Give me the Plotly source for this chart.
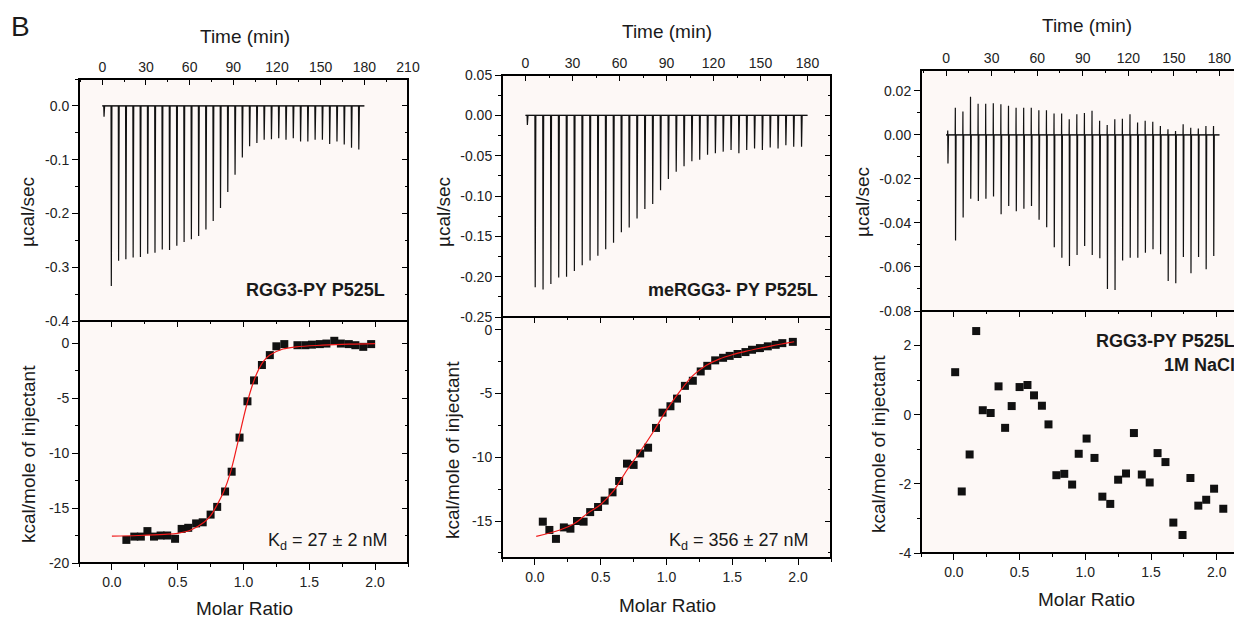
import plotly.graph_objects as go

W, H = 1242, 620
OFF = 8   # the page body margin shifts the figure by 8px, so layout pixels are measured from there
FONT = 'Arial, Liberation Sans, sans-serif'

#----------data----------------------------------------------------------------------------------

# injection times (min), same protocol for the three runs
inj_time = [1, 6, 11, 16, 21, 26, 31, 36, 41, 46, 51, 56, 61, 66, 71, 76, 81, 86, 91, 96,
            101, 106, 111, 116, 121, 126, 131, 136, 141, 146, 151, 156, 161, 166, 171, 176]
run_span = [0, 180]

# raw thermogram peaks (ucal/sec)
raw1_peak = [-0.02, -0.335, -0.288, -0.285, -0.282, -0.281, -0.275, -0.273, -0.267, -0.268, -0.260,
             -0.253, -0.248, -0.242, -0.230, -0.214, -0.190, -0.160, -0.128, -0.096, -0.075,
             -0.069, -0.063, -0.062, -0.060, -0.063, -0.060, -0.066, -0.066, -0.063, -0.063,
             -0.071, -0.066, -0.072, -0.078, -0.081]
raw2_peak = [-0.012, -0.213, -0.216, -0.209, -0.201, -0.200, -0.193, -0.186, -0.180, -0.174, -0.166,
             -0.158, -0.145, -0.139, -0.128, -0.116, -0.110, -0.093, -0.079, -0.070, -0.063,
             -0.057, -0.055, -0.049, -0.047, -0.045, -0.043, -0.047, -0.043, -0.041, -0.043,
             -0.040, -0.041, -0.037, -0.039, -0.039]
raw3_peak = [-0.013, -0.048, -0.0375, -0.029, -0.030, -0.029, -0.028, -0.036, -0.0323, -0.0347, -0.0335,
             -0.0323, -0.0385, -0.042, -0.051, -0.0558, -0.0595, -0.0545, -0.0505, -0.0545, -0.056,
             -0.070, -0.0705, -0.057, -0.0558, -0.0558, -0.0535, -0.052, -0.0542, -0.0664, -0.0674,
             -0.0555, -0.0628, -0.0555, -0.061, -0.055]
raw3_up = [0.002, 0.0124, 0.0106, 0.0174, 0.0142, 0.0142, 0.0144, 0.0139, 0.0132, 0.0124, 0.0124,
           0.0124, 0.0112, 0.0112, 0.0097, 0.0097, 0.0071, 0.0094, 0.010, 0.011, 0.0064,
           0.0045, 0.0071, 0.0074, 0.0094, 0.0056, 0.0064, 0.006, 0.0041, 0.0026, 0.0018,
           0.0048, 0.0033, 0.0029, 0.0041, 0.0041]

# integrated heats (kcal/mole of injectant) vs molar ratio
mr1 = [0.11, 0.17, 0.22, 0.27, 0.32, 0.37, 0.42, 0.48, 0.53, 0.58, 0.64, 0.69, 0.75, 0.80, 0.86, 0.91,
       0.97, 1.03, 1.08, 1.14, 1.20, 1.25, 1.31, 1.41, 1.47, 1.52, 1.58, 1.63, 1.69, 1.74, 1.80, 1.85,
       1.91, 1.97]
heat1 = [-17.9, -17.6, -17.6, -17.1, -17.6, -17.5, -17.5, -17.8, -16.9, -16.8, -16.4, -16.3, -15.6, -14.9,
         -13.5, -11.7, -8.6, -5.3, -3.4, -2.0, -1.1, -0.3, -0.1, -0.2, -0.2, -0.15, -0.1, -0.05, 0.2,
         -0.05, -0.1, -0.2, -0.35, -0.1]
fit1_mr = [0.0, 0.2, 0.4, 0.5, 0.6, 0.7, 0.75, 0.8, 0.85, 0.9, 0.95, 1.0, 1.05, 1.1, 1.15, 1.2, 1.3, 1.4,
           1.6, 1.8, 2.0]
fit1_heat = [-17.55, -17.5, -17.4, -17.3, -17.0, -16.3, -15.7, -14.7, -13.5, -11.8, -9.4, -6.8, -4.5,
             -2.8, -1.7, -1.1, -0.55, -0.35, -0.2, -0.1, -0.05]

mr2 = [0.06, 0.11, 0.16, 0.22, 0.27, 0.32, 0.37, 0.42, 0.48, 0.53, 0.59, 0.64, 0.70, 0.75, 0.80, 0.86,
       0.92, 0.97, 1.03, 1.08, 1.14, 1.20, 1.26, 1.31, 1.37, 1.43, 1.48, 1.54, 1.60, 1.65, 1.71, 1.77,
       1.83, 1.88, 1.96]
heat2 = [-15.05, -15.7, -16.4, -15.5, -15.6, -15.0, -15.05, -14.3, -13.9, -13.4, -12.75, -11.86, -10.5,
         -10.6, -9.7, -9.25, -7.7, -6.5, -6.0, -5.4, -4.4, -4.0, -3.27, -2.83, -2.4, -2.2, -2.05, -1.9,
         -1.75, -1.57, -1.44, -1.3, -1.18, -1.05, -0.95]
fit2_mr = [0.01, 0.19, 0.3, 0.4, 0.5, 0.6, 0.7, 0.8, 0.9, 1.0, 1.1, 1.2, 1.3, 1.4, 1.5, 1.6, 1.7, 1.8,
           1.9, 1.97]
fit2_heat = [-16.2, -15.7, -15.2, -14.4, -13.7, -12.6, -11.0, -9.55, -8.0, -6.3, -4.85, -3.6, -2.8,
             -2.3, -1.96, -1.7, -1.47, -1.26, -1.07, -0.94]

mr3 = [0.01, 0.06, 0.12, 0.17, 0.22, 0.28, 0.34, 0.39, 0.44, 0.50, 0.56, 0.61, 0.67, 0.72, 0.78, 0.84,
       0.90, 0.95, 1.01, 1.07, 1.13, 1.19, 1.25, 1.31, 1.37, 1.43, 1.49, 1.55, 1.61, 1.67, 1.74, 1.80,
       1.86, 1.92, 1.98, 2.05]
heat3 = [1.23, -2.22, -1.15, 2.42, 0.13, 0.05, 0.82, -0.38, 0.25, 0.80, 0.86, 0.56, 0.26, -0.28, -1.75,
         -1.71, -2.02, -1.13, -0.69, -1.25, -2.37, -2.58, -1.88, -1.70, -0.53, -1.73, -1.96, -1.11,
         -1.37, -3.12, -3.48, -1.83, -2.63, -2.46, -2.14, -2.72]

# tick labels
time_ticks_210 = [0, 30, 60, 90, 120, 150, 180, 210]
time_ticks_180 = [0, 30, 60, 90, 120, 150, 180]
mr_ticks = [0.0, 0.5, 1.0, 1.5, 2.0]
mr_text = ['0.0', '0.5', '1.0', '1.5', '2.0']
raw1_ticks = [0.0, -0.1, -0.2, -0.3, -0.4]
raw1_text = ['0.0', '-0.1', '-0.2', '-0.3', '-0.4']
raw2_ticks = [0.05, 0.0, -0.05, -0.10, -0.15, -0.20, -0.25]
raw2_text = ['0.05', '0.00', '-0.05', '-0.10', '-0.15', '-0.20', '-0.25']
raw3_ticks = [0.02, 0.0, -0.02, -0.04, -0.06, -0.08]
raw3_text = ['0.02', '0.00', '-0.02', '-0.04', '-0.06', '-0.08']
heat1_ticks = [0, -5, -10, -15, -20]
heat2_ticks = [0, -5, -10, -15]
heat3_ticks = [2, 0, -2, -4]

#----------helpers---------------------------------------------------------------------------------

def thermogram(times, down, up=None):
    xs, ys = [run_span[0]], [0]
    for i, t in enumerate(times):
        if up is None:
            xs += [t, t + 0.2, t + 0.6]
            ys += [0, down[i], 0]
        else:
            xs += [t, t + 0.1, t + 0.25, t + 0.6]
            ys += [0, up[i], down[i], 0]
    xs.append(run_span[1])
    ys.append(0)
    return xs, ys


def axis(rng, anchor, side, tickvals, ticktext, ticks, minor_dtick, dom=None, overlay=None):
    ax = dict(range=rng, anchor=anchor, side=side, tickmode='array', tickvals=tickvals, ticktext=ticktext,
              ticks=ticks, ticklen=6, tickwidth=1.3, tickcolor='black', showgrid=False, zeroline=False,
              automargin=False, tickfont=dict(family=FONT, size=14, color='#222'),
              minor=dict(ticks=ticks, ticklen=3, tickwidth=1.3, tickcolor='black', tickmode='linear',
                         tick0=0, dtick=minor_dtick, showgrid=False))
    if overlay:
        ax['overlaying'] = overlay
        ax['showticklabels'] = False
        ax['showline'] = False
    else:
        ax['domain'] = dom
        ax['showline'] = True
        ax['linecolor'] = 'black'
        ax['linewidth'] = 1
    return ax


def fx(x):
    return (x - OFF) / W


def fy(y):
    return 1 - (y - OFF) / H

#----------panel setup (pixel frames and axis ranges)----------------------------------------------

panels = [
    dict(xpx=(79, 408), top=(79, 321), bot=(321, 563), t_rng=[-16, 210], mr_rng=[-0.25, 2.25],
         raw_rng=[-0.4, 0.05], heat_rng=[-20, 2], t_ticks=time_ticks_210,
         raw_ticks=raw1_ticks, raw_text=raw1_text, raw_minor=0.05,
         heat_ticks=heat1_ticks, heat_minor=2.5, thermo=thermogram(inj_time, raw1_peak),
         mr=mr1, heat=heat1, fit=(fit1_mr, fit1_heat)),
    dict(xpx=(502, 831), top=(75, 317), bot=(317, 558), t_rng=[-15, 195], mr_rng=[-0.25, 2.25],
         raw_rng=[-0.25, 0.05], heat_rng=[-17.9, 1.0], t_ticks=time_ticks_180,
         raw_ticks=raw2_ticks, raw_text=raw2_text, raw_minor=0.025,
         heat_ticks=heat2_ticks, heat_minor=2.5, thermo=thermogram(inj_time, raw2_peak),
         mr=mr2, heat=heat2, fit=(fit2_mr, fit2_heat)),
    dict(xpx=(921, 1243), top=(70, 311), bot=(311, 553), t_rng=[-16.5, 195.5], mr_rng=[-0.25, 2.2],
         raw_rng=[-0.08, 0.0295], heat_rng=[-4, 3], t_ticks=time_ticks_180,
         raw_ticks=raw3_ticks, raw_text=raw3_text, raw_minor=0.01,
         heat_ticks=heat3_ticks, heat_minor=1, thermo=thermogram(inj_time, raw3_peak, raw3_up),
         mr=mr3, heat=heat3, fit=None),
]

fig = go.Figure()
layout_axes = {}
frames = []

for p, pan in enumerate(panels):
    xt, xb, xbm = 3 * p + 1, 3 * p + 2, 3 * p + 3
    yt, ytm, yb, ybm = 4 * p + 1, 4 * p + 2, 4 * p + 3, 4 * p + 4
    nm = lambda k, i: k if i == 1 else k + str(i)
    x0, x1 = fx(pan['xpx'][0]), fx(pan['xpx'][1])
    top_dom = [fy(pan['top'][1]), fy(pan['top'][0])]
    bot_dom = [fy(pan['bot'][1]), fy(pan['bot'][0])]

    layout_axes[nm('xaxis', xt)] = axis(pan['t_rng'], nm('y', yt), 'top', pan['t_ticks'],
                                        [str(v) for v in pan['t_ticks']], 'inside', 15, dom=[x0, x1])
    layout_axes[nm('xaxis', xb)] = axis(pan['mr_rng'], nm('y', yb), 'bottom', mr_ticks, mr_text,
                                        'outside', 0.25, dom=[x0, x1])
    layout_axes[nm('xaxis', xbm)] = axis(pan['mr_rng'], nm('y', yb), 'top', mr_ticks, mr_text,
                                         'inside', 0.25, overlay=nm('x', xb))
    layout_axes[nm('yaxis', yt)] = axis(pan['raw_rng'], nm('x', xt), 'left', pan['raw_ticks'],
                                        pan['raw_text'], 'outside', pan['raw_minor'], dom=top_dom)
    layout_axes[nm('yaxis', ytm)] = axis(pan['raw_rng'], nm('x', xt), 'right', pan['raw_ticks'],
                                         pan['raw_text'], 'inside', pan['raw_minor'], overlay=nm('y', yt))
    layout_axes[nm('yaxis', yb)] = axis(pan['heat_rng'], nm('x', xb), 'left', pan['heat_ticks'],
                                        [str(v) for v in pan['heat_ticks']], 'outside', pan['heat_minor'],
                                        dom=bot_dom)
    layout_axes[nm('yaxis', ybm)] = axis(pan['heat_rng'], nm('x', xb), 'right', pan['heat_ticks'],
                                         [str(v) for v in pan['heat_ticks']], 'inside', pan['heat_minor'],
                                         overlay=nm('y', yb))

    # black box round each plot area (paper coordinates of the domains)
    for dom in (top_dom, bot_dom):
        frames.append(dict(type='rect', xref='paper', yref='paper', x0=x0, x1=x1, y0=dom[0], y1=dom[1],
                           line=dict(color='black', width=2), layer='above'))

    # raw thermogram + baseline
    fig.add_trace(go.Scatter(x=run_span, y=[0, 0], mode='lines', line=dict(color='#333', width=0.8),
                             xaxis=nm('x', xt), yaxis=nm('y', yt), hoverinfo='skip'))
    tx, ty = pan['thermo']
    fig.add_trace(go.Scatter(x=tx, y=ty, mode='lines', line=dict(color='#111', width=1.2),
                             xaxis=nm('x', xt), yaxis=nm('y', yt)))

    # integrated heats + fit
    fig.add_trace(go.Scatter(x=pan['mr'], y=pan['heat'], mode='markers',
                             marker=dict(symbol='square', size=8, color='#111'),
                             xaxis=nm('x', xb), yaxis=nm('y', yb)))
    if pan['fit']:
        fig.add_trace(go.Scatter(x=pan['fit'][0], y=pan['fit'][1], mode='lines', line_shape='spline',
                                 line=dict(color='#f01a1a', width=1.2),
                                 xaxis=nm('x', xb), yaxis=nm('y', yb)))

    # empty traces so the mirrored tick axes get drawn
    for xa, ya in [(xt, ytm), (xbm, yb), (xb, ybm)]:
        fig.add_trace(go.Scatter(x=[None], y=[None], mode='markers', xaxis=nm('x', xa),
                                 yaxis=nm('y', ya), hoverinfo='skip'))

#----------text---------------------------------------------------------------------------------------

def note(text, x, y, size=19, xanchor='center', angle=0, bold=False):
    if bold:
        text = '<b>' + text + '</b>'
    return dict(text=text, x=fx(x), y=fy(y), xref='paper', yref='paper', showarrow=False,
                xanchor=xanchor, yanchor='middle', textangle=angle,
                font=dict(family=FONT, size=size, color='#1a1a1a'))

annotations = [
    note('B', 9, 26, size=28, xanchor='left'),
    note('Time (min)', 245, 36), note('Time (min)', 667, 31), note('Time (min)', 1087, 25),
    note('Molar Ratio', 244, 608), note('Molar Ratio', 667, 605), note('Molar Ratio', 1086, 599),
    note('µcal/sec', 27, 212, angle=-90), note('µcal/sec', 443, 212, angle=-90),
    note('µcal/sec', 862, 202, angle=-90),
    note('kcal/mole of injectant', 28, 454, angle=-90), note('kcal/mole of injectant', 452, 450, angle=-90),
    note('kcal/mole of injectant', 878, 444, angle=-90),
    note('RGG3-PY P525L', 387, 290, size=18, xanchor='right', bold=True),
    note('meRGG3- PY P525L', 820, 290, size=18, xanchor='right', bold=True),
    note('RGG3-PY P525L', 1237, 341, size=18, xanchor='right', bold=True),
    note('1M NaCl', 1237, 365, size=18, xanchor='right', bold=True),
    note('K<sub>d</sub> = 27 ± 2 nM', 389, 541, size=18, xanchor='right'),
    note('K<sub>d</sub> = 356 ± 27 nM', 811, 541, size=18, xanchor='right'),
]

fig.update_layout(width=W, height=H, margin=dict(l=0, r=0, t=0, b=0, autoexpand=False), showlegend=False,
                  paper_bgcolor='white', plot_bgcolor='#fdf8f6', annotations=annotations,
                  shapes=frames, font=dict(family=FONT), **layout_axes)

fig.write_html("out.html")
